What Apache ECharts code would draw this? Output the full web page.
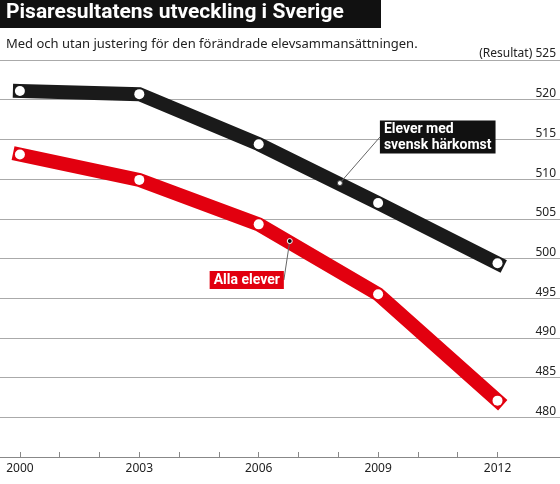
<!DOCTYPE html>
<html>
<head>
<meta charset="utf-8">
<script src="https://cdn.jsdelivr.net/npm/echarts@6/dist/echarts.min.js"></script>
<style>
  html, body { margin: 0; padding: 0; background: #fff; }
  #chart { width: 560px; height: 484px; }
</style>
</head>
<body>
<div id="chart"></div>
<script>
// år och resultat
const years = [2000, 2003, 2006, 2009, 2012];
const svenskHarkomst = [521.1, 520.7, 514.4, 507.0, 499.4];
const allaElever = [513.1, 509.9, 504.3, 495.5, 482.1];
const tickYears = [2000, 2001, 2002, 2003, 2004, 2005, 2006, 2007, 2008, 2009, 2010, 2011, 2012];
// punkter där etiketterna pekar
const svenskNote = [2008.04, 509.5];
const allaNote = [2006.78, 502.2];

const chart = echarts.init(document.getElementById('chart'));

const pair = (xs, ys) => xs.map((x, i) => [x, ys[i]]);

chart.setOption({
  animation: false,
  graphic: [
    { type: 'rect', shape: { x: 0, y: 0, width: 381, height: 28 }, style: { fill: '#111' } },
    { type: 'text', left: 6, top: 2,
      style: { text: 'Pisaresultatens utveckling i Sverige', fill: '#fff',
        font: 'bold 21px "Roboto", sans-serif' } },
    { type: 'text', left: 6, top: 38,
      style: { text: 'Med och utan justering för den förändrade elevsammansättningen.', fill: '#222',
        font: '13px "Noto Sans", sans-serif' } }
  ],
  grid: { left: 0, right: 0, top: 60, bottom: 27 },
  xAxis: {
    type: 'value', min: 1999.5, max: 2013.57,
    splitLine: { show: false },
    axisLine: { lineStyle: { color: '#888', width: 1 } },
    axisTick: { customValues: tickYears, length: 5, inside: true, lineStyle: { color: '#888' } },
    axisLabel: { customValues: [2000, 2003, 2006, 2009, 2012], color: '#222', fontSize: 12,
      fontFamily: 'Noto Sans', margin: 6, formatter: v => String(v) }
  },
  yAxis: {
    type: 'value', position: 'right', min: 475, max: 525, interval: 5,
    axisLine: { show: false }, axisTick: { show: false },
    splitLine: { lineStyle: { color: '#aaa', width: 1 } },
    axisLabel: {
      inside: true, margin: 4, verticalAlign: 'bottom', color: '#222', fontSize: 12,
      fontFamily: 'Noto Sans',
      formatter: v => v === 475 ? '' : (v === 525 ? '(Resultat) 525' : String(v))
    }
  },
  series: [
    {
      type: 'line', data: pair(years, svenskHarkomst),
      lineStyle: { color: '#1a1a1a', width: 14, cap: 'square', join: 'miter' },
      symbol: 'circle', symbolSize: 10,
      itemStyle: { color: '#fff', borderWidth: 0 }, z: 3
    },
    {
      type: 'line', data: pair(years, allaElever),
      lineStyle: { color: '#e2000f', width: 14, cap: 'square', join: 'miter' },
      symbol: 'circle', symbolSize: 10,
      itemStyle: { color: '#fff', borderWidth: 0 }, z: 3
    },
    {
      type: 'scatter', data: [svenskNote], symbolSize: 5, z: 5,
      itemStyle: { color: '#fff', borderColor: '#444', borderWidth: 1, opacity: 1 },
      label: { show: true, formatter: 'Elever med\nsvensk härkomst', backgroundColor: '#111',
        color: '#fff', fontWeight: 'bold', fontSize: 14, lineHeight: 16,
        fontFamily: 'Roboto', padding: [1, 4, 0, 4], align: 'left' },
      labelLayout: { dx: 40, dy: -46 },
      labelLine: { show: true, lineStyle: { color: '#666', width: 1 } }
    },
    {
      type: 'scatter', data: [allaNote], symbolSize: 5, z: 5,
      itemStyle: { color: '#111', borderColor: '#fff', borderWidth: 1, opacity: 1 },
      label: { show: true, formatter: 'Alla elever', backgroundColor: '#e2000f',
        color: '#fff', fontWeight: 'bold', fontSize: 14, lineHeight: 17,
        fontFamily: 'Roboto', padding: [1, 4, 0, 4] },
      labelLayout: { dx: -43, dy: 39 },
      labelLine: { show: true, lineStyle: { color: '#666', width: 1 } }
    }
  ]
});
</script>
</body>
</html>
